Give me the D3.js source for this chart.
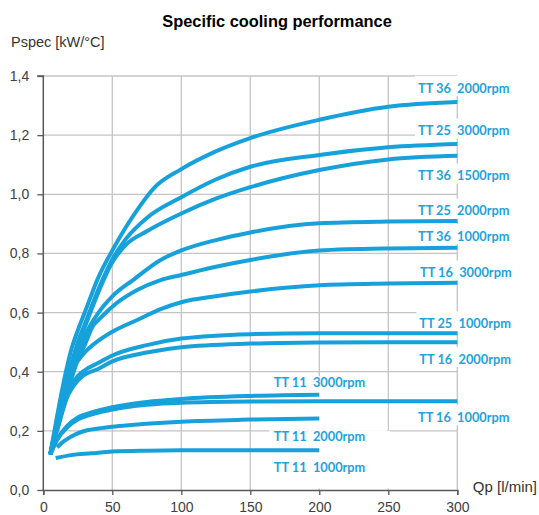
<!DOCTYPE html>
<html>
<head>
<meta charset="utf-8">
<script src="https://cdn.jsdelivr.net/npm/d3@7"></script>
<style>
  html, body { margin: 0; padding: 0; background: #fff; }
  svg { display: block; }
</style>
</head>
<body>
<svg id="chart" width="539" height="515"></svg>
<script>
// ---------- DATA ----------
const title = "Specific cooling performance";
const yTitle = "Pspec [kW/°C]";
const xTitle = "Qp [l/min]";
const xTicks = [0, 50, 100, 150, 200, 250, 300];
const yTicks = [0, 0.2, 0.4, 0.6, 0.8, 1.0, 1.2, 1.4];

const seriesNames = [
  "TT 36  2000rpm", "TT 25  3000rpm", "TT 36  1500rpm", "TT 25  2000rpm",
  "TT 36  1000rpm", "TT 16  3000rpm", "TT 25  1000rpm", "TT 16  2000rpm",
  "TT 11  3000rpm", "TT 16  1000rpm", "TT 11  2000rpm", "TT 11  1000rpm"
];

const tt36_2000_q = [5, 10, 15, 20, 25, 30, 40, 50, 60, 70, 80, 100, 125, 150, 200, 250, 300];
const tt36_2000_p = [0.12, 0.25, 0.37, 0.47, 0.54, 0.60, 0.72, 0.81, 0.89, 0.96, 1.02, 1.085, 1.145, 1.19, 1.252, 1.296, 1.312];

const tt25_3000_q = [5, 10, 15, 20, 25, 30, 40, 50, 60, 75, 100, 125, 150, 200, 250, 300];
const tt25_3000_p = [0.12, 0.23, 0.33, 0.42, 0.50, 0.56, 0.68, 0.78, 0.85, 0.92, 0.99, 1.05, 1.093, 1.133, 1.159, 1.170];

const tt36_1500_q = [5, 10, 15, 20, 25, 30, 40, 50, 60, 75, 100, 125, 150, 200, 250, 300];
const tt36_1500_p = [0.12, 0.23, 0.33, 0.42, 0.49, 0.55, 0.67, 0.77, 0.83, 0.875, 0.935, 0.985, 1.024, 1.082, 1.118, 1.130];

const tt25_2000_q = [5, 10, 15, 20, 25, 30, 40, 50, 65, 85, 100, 125, 150, 200, 250, 300];
const tt25_2000_p = [0.12, 0.22, 0.31, 0.39, 0.46, 0.52, 0.60, 0.655, 0.71, 0.778, 0.81, 0.845, 0.871, 0.902, 0.908, 0.910];

const tt36_1000_q = [5, 10, 15, 20, 25, 30, 36, 40, 50, 68, 85, 100, 125, 150, 200, 250, 300];
const tt36_1000_p = [0.12, 0.21, 0.30, 0.37, 0.44, 0.49, 0.555, 0.575, 0.62, 0.676, 0.71, 0.727, 0.755, 0.778, 0.810, 0.817, 0.819];

const tt16_3000_q = [24, 30, 40, 50, 68, 85, 100, 125, 150, 200, 250, 300];
const tt16_3000_p = [0.43, 0.465, 0.505, 0.535, 0.575, 0.612, 0.635, 0.655, 0.671, 0.692, 0.698, 0.701];

const tt25_1000_q = [5, 10, 17, 25, 30, 40, 50, 75, 100, 150, 200, 250, 300];
const tt25_1000_p = [0.12, 0.21, 0.32, 0.385, 0.405, 0.43, 0.455, 0.49, 0.512, 0.527, 0.530, 0.530, 0.530];

const tt16_2000_q = [5, 10, 17, 25, 30, 40, 50, 75, 100, 150, 200, 250, 300];
const tt16_2000_p = [0.12, 0.20, 0.31, 0.37, 0.39, 0.41, 0.435, 0.465, 0.483, 0.495, 0.499, 0.500, 0.500];

const tt11_3000_q = [5, 10, 17, 25, 30, 50, 75, 100, 150, 200];
const tt11_3000_p = [0.12, 0.17, 0.215, 0.245, 0.255, 0.28, 0.298, 0.308, 0.318, 0.322];

const tt16_1000_q = [5, 10, 17, 25, 30, 50, 75, 100, 150, 200, 250, 300];
const tt16_1000_p = [0.12, 0.17, 0.21, 0.238, 0.248, 0.272, 0.288, 0.295, 0.299, 0.300, 0.300, 0.300];

const tt11_2000_q = [10, 15, 20, 28, 40, 50, 64, 100, 150, 200];
const tt11_2000_p = [0.144, 0.165, 0.18, 0.197, 0.208, 0.214, 0.22, 0.231, 0.238, 0.242];

const tt11_1000_q = [9, 20, 35, 50, 75, 100, 150, 200];
const tt11_1000_p = [0.108, 0.118, 0.124, 0.13, 0.133, 0.134, 0.134, 0.134];

const seriesQ = [tt36_2000_q, tt25_3000_q, tt36_1500_q, tt25_2000_q, tt36_1000_q, tt16_3000_q,
                 tt25_1000_q, tt16_2000_q, tt11_3000_q, tt16_1000_q, tt11_2000_q, tt11_1000_q];
const seriesP = [tt36_2000_p, tt25_3000_p, tt36_1500_p, tt25_2000_p, tt36_1000_p, tt16_3000_p,
                 tt25_1000_p, tt16_2000_p, tt11_3000_p, tt16_1000_p, tt11_2000_p, tt11_1000_p];

// label anchor positions (data coords, vertical centre of text)
const labelQ = [271.5, 271.5, 271.5, 271.5, 271.5, 273, 272.5, 272.5, 167, 271.5, 167, 167];
const labelP = [1.3595, 1.215, 1.063, 0.9445, 0.859, 0.736, 0.564, 0.443, 0.363, 0.246, 0.1826, 0.0768];

// ---------- CHART ----------
const svg = d3.select("#chart");
const x = d3.scaleLinear().domain([0, 300]).range([43.3, 457.3]);
const y = d3.scaleLinear().domain([0, 1.4]).range([490, 76]);

const lineColor = "#17a1db";
const labelColor = "#1ea3dc";

// gridlines
const grid = svg.append("g");
grid.selectAll("line.h").data(yTicks.filter(d => d > 0)).join("line")
  .attr("x1", x(0)).attr("x2", x(300))
  .attr("y1", d => y(d)).attr("y2", d => y(d))
  .attr("stroke", "#c4c4c4").attr("stroke-width", 1.3);
grid.selectAll("line.v").data(xTicks.filter(d => d > 0)).join("line")
  .attr("x1", d => x(d)).attr("x2", d => x(d))
  .attr("y1", y(0)).attr("y2", y(1.4))
  .attr("stroke", "#c4c4c4").attr("stroke-width", 1.3);

// white label boxes (cover gridlines)
const boxes = svg.append("g").attr("fill", "#fff");
seriesNames.forEach((name, i) => {
  if (labelQ[i] < 200) return;
  boxes.append("rect")
    .attr("x", x(labelQ[i]) - 3)
    .attr("y", y(labelP[i]) - 12)
    .attr("width", 100)
    .attr("height", 20);
});
// text box holding the three TT 11 labels
boxes.append("rect")
  .attr("x", x(166) - 3).attr("y", y(0.385))
  .attr("width", x(250) - x(166) + 2).attr("height", y(0.2) - y(0.385));
boxes.append("rect")
  .attr("x", x(166) - 3).attr("y", y(0.2))
  .attr("width", x(250) - x(166) + 5).attr("height", y(0.005) - y(0.2));

// axes
const axL = svg.append("g").attr("transform", `translate(${x(0)},0)`)
  .call(d3.axisLeft(y).tickValues(yTicks).tickSize(6).tickPadding(8)
    .tickFormat(d => d.toFixed(1).replace(".", ",")));
const axB = svg.append("g").attr("transform", `translate(0,${y(0)})`)
  .call(d3.axisBottom(x).tickValues(xTicks).tickSize(5).tickPadding(7));
[axL, axB].forEach(ax => {
  ax.select(".domain").attr("stroke", "#595959").attr("stroke-width", 1.5);
  ax.selectAll(".tick line").attr("stroke", "#595959").attr("stroke-width", 1.3);
  ax.selectAll("text").attr("font-family", "'Liberation Sans', Arial, sans-serif")
    .attr("font-size", 14).attr("fill", "#404040");
});
axL.select(".domain").attr("d", `M-6,${y(1.4)}H0V${y(0)}`);

// curves
const line = d3.line().x(d => x(d[0])).y(d => y(d[1])).curve(d3.curveMonotoneX);
seriesQ.forEach((qs, i) => {
  const pts = qs.map((q, j) => [q, seriesP[i][j]]);
  svg.append("path").datum(pts)
    .attr("d", line)
    .attr("fill", "none")
    .attr("stroke", lineColor)
    .attr("stroke-width", 4)
    .attr("stroke-linejoin", "round");
});

// series labels
svg.append("g").selectAll("text").data(seriesNames).join("text")
  .attr("x", (d, i) => x(labelQ[i]))
  .attr("y", (d, i) => y(labelP[i]))
  .attr("dy", "0.36em")
  .attr("font-family", "Lato, 'Open Sans', sans-serif")
  .attr("font-weight", "bold")
  .attr("font-size", 12.8)
  .attr("fill", labelColor)
  .style("white-space", "pre")
  .text(d => d);

// titles
svg.append("text").attr("x", 277).attr("y", 27).attr("text-anchor", "middle")
  .attr("font-family", "'Liberation Sans', Arial, sans-serif").attr("font-weight", "bold")
  .attr("font-size", 16.4).attr("fill", "#000").text(title);
svg.append("text").attr("x", 11).attr("y", 47)
  .attr("font-family", "'Liberation Sans', Arial, sans-serif")
  .attr("font-size", 14.5).attr("fill", "#333").text(yTitle);
svg.append("text").attr("x", 537).attr("y", 492).attr("text-anchor", "end")
  .attr("font-family", "'Liberation Sans', Arial, sans-serif")
  .attr("font-size", 15).attr("fill", "#333").text(xTitle);
</script>
</body>
</html>
